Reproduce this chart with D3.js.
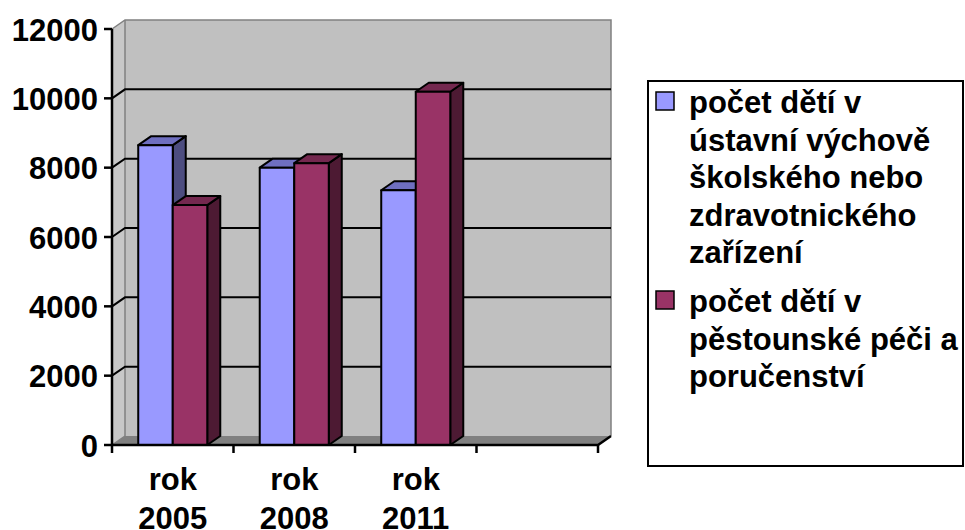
<!DOCTYPE html>
<html>
<head>
<meta charset="utf-8">
<script src="https://cdn.jsdelivr.net/npm/d3@7"></script>
<style>
  body { margin: 0; background: #fff; }
  svg { display: block; font-family: "Liberation Sans", Arial, sans-serif; font-weight: bold; }
</style>
</head>
<body>
<div id="chart"></div>
<script>
const categories = ["rok 2005", "rok 2008", "rok 2011", ""];
const seriesNames = [
  "počet dětí v ústavní výchově školského nebo zdravotnického zařízení",
  "počet dětí v pěstounské péči a poručenství"
];
const ustavni = [8650, 8000, 7350];
const pestounska = [6920, 8130, 10190];
const yTicks = [0, 2000, 4000, 6000, 8000, 10000, 12000];
const legendLines = [
  ["počet dětí v", "ústavní výchově", "školského nebo", "zdravotnického", "zařízení"],
  ["počet dětí v", "pěstounské péči a", "poručenství"]
];

const W = 965, H = 530;
const plotLeft = 112, plotRight = 598, plotTop = 29, plotBottom = 445;
const DX = 13, DY = -9; // depth of the 3d box

const colors = [
  { front: "#9999ff", top: "#6f6fc0", side: "#4d4d80" },
  { front: "#993366", top: "#74284f", side: "#4d1a33" }
];

const svg = d3.select("#chart").append("svg")
  .attr("width", W).attr("height", H);

const x0 = d3.scaleBand().domain(categories).range([plotLeft, plotRight]);
const x1 = d3.scaleBand().domain(seriesNames).range([0, x0.bandwidth()]).paddingOuter(0.76);
const y = d3.scaleLinear().domain([0, 12000]).range([plotBottom, plotTop]);

const pts = (arr) => arr.map((p) => p.join(",")).join(" ");

// walls
svg.append("polygon") // back wall
  .attr("points", pts([[plotLeft + DX, plotTop + DY], [plotRight + DX, plotTop + DY], [plotRight + DX, plotBottom + DY], [plotLeft + DX, plotBottom + DY]]))
  .attr("fill", "#c0c0c0");
svg.append("polygon") // side wall
  .attr("points", pts([[plotLeft, plotTop], [plotLeft + DX, plotTop + DY], [plotLeft + DX, plotBottom + DY], [plotLeft, plotBottom]]))
  .attr("fill", "#c8c8c8");
svg.append("polygon") // floor
  .attr("points", pts([[plotLeft, plotBottom], [plotRight, plotBottom], [plotRight + DX, plotBottom + DY], [plotLeft + DX, plotBottom + DY]]))
  .attr("fill", "#808080");

// wall edges
const edge = svg.append("g").attr("stroke", "#808080").attr("stroke-width", 1.5).attr("fill", "none");
edge.append("polyline").attr("points", pts([[plotLeft, plotTop], [plotLeft + DX, plotTop + DY], [plotRight + DX, plotTop + DY], [plotRight + DX, plotBottom + DY]]));
edge.append("line").attr("x1", plotLeft + DX).attr("x2", plotLeft + DX).attr("y1", plotTop + DY).attr("y2", plotBottom + DY);
edge.append("line").attr("x1", plotLeft).attr("x2", plotLeft + DX).attr("y1", plotBottom).attr("y2", plotBottom + DY);

// gridlines
const grid = svg.append("g").attr("stroke", "#000").attr("stroke-width", 2).attr("fill", "none");
grid.selectAll("polyline").data(yTicks.filter((d) => d > 0 && d < 12000)).join("polyline")
  .attr("points", (d) => pts([[plotLeft, y(d)], [plotLeft + DX, y(d) + DY], [plotRight + DX, y(d) + DY]]));

// bars
const barData = [];
categories.forEach((c, i) => {
  [ustavni, pestounska].forEach((vals, s) => {
    if (vals[i] !== undefined) barData.push({ cat: c, s, v: vals[i] });
  });
});

const bars = svg.append("g").selectAll("g").data(barData).join("g")
  .attr("stroke", "#000").attr("stroke-width", 2).attr("stroke-linejoin", "round");

bars.each(function (d) {
  const g = d3.select(this);
  const xa = x0(d.cat) + x1(seriesNames[d.s]);
  const xb = xa + x1.bandwidth();
  const yt = y(d.v), yb = y(0);
  g.append("polygon") // side
    .attr("points", pts([[xb, yt], [xb + DX, yt + DY], [xb + DX, yb + DY], [xb, yb]]))
    .attr("fill", colors[d.s].side);
  g.append("polygon") // top
    .attr("points", pts([[xa, yt], [xa + DX, yt + DY], [xb + DX, yt + DY], [xb, yt]]))
    .attr("fill", colors[d.s].top);
  g.append("rect") // front
    .attr("x", xa).attr("y", yt).attr("width", xb - xa).attr("height", yb - yt)
    .attr("fill", colors[d.s].front);
});

// axes
const ax = svg.append("g").attr("stroke", "#000").attr("stroke-width", 2.5);
ax.append("line").attr("x1", plotLeft).attr("x2", plotLeft).attr("y1", plotTop).attr("y2", plotBottom);
ax.append("polyline").attr("fill", "none")
  .attr("points", pts([[plotLeft, plotBottom], [plotRight, plotBottom], [plotRight + DX, plotBottom + DY]]));
ax.selectAll(".yt").data(yTicks).join("line").attr("class", "yt")
  .attr("x1", plotLeft - 8).attr("x2", plotLeft).attr("y1", (d) => y(d)).attr("y2", (d) => y(d));
const xTickPos = categories.map((c) => x0(c)).concat([plotRight]);
ax.selectAll(".xt").data(xTickPos).join("line").attr("class", "xt")
  .attr("x1", (d) => d).attr("x2", (d) => d).attr("y1", plotBottom).attr("y2", plotBottom + 8);

// y labels
svg.append("g").selectAll("text").data(yTicks).join("text")
  .attr("x", plotLeft - 14).attr("y", (d) => y(d) + 11.5)
  .attr("text-anchor", "end").attr("font-size", 31).attr("fill", "#000")
  .text((d) => d);

// x labels
const xl = svg.append("g").selectAll("text").data(categories.filter((c) => c)).join("text")
  .attr("text-anchor", "middle").attr("font-size", 31).attr("fill", "#000");
xl.each(function (c) {
  const parts = c.split(" ");
  const cx = x0(c) + x0.bandwidth() / 2;
  d3.select(this).selectAll("tspan").data(parts).join("tspan")
    .attr("x", cx).attr("y", (p, i) => 490 + i * 39).text((p) => p);
});

// legend
const lg = svg.append("g");
lg.append("rect").attr("x", 648).attr("y", 81).attr("width", 315).attr("height", 385)
  .attr("fill", "#fff").attr("stroke", "#000").attr("stroke-width", 2);
const firstBase = [113, 312];
legendLines.forEach((lines, s) => {
  lg.append("rect").attr("x", 656).attr("y", firstBase[s] - 21).attr("width", 18).attr("height", 18)
    .attr("fill", colors[s].front).attr("stroke", "#000").attr("stroke-width", 1.5);
  lg.append("text").attr("font-size", 31).attr("fill", "#000")
    .selectAll("tspan").data(lines).join("tspan")
    .attr("x", 689).attr("y", (l, i) => firstBase[s] + i * 37.5).text((l) => l);
});
</script>
</body>
</html>
